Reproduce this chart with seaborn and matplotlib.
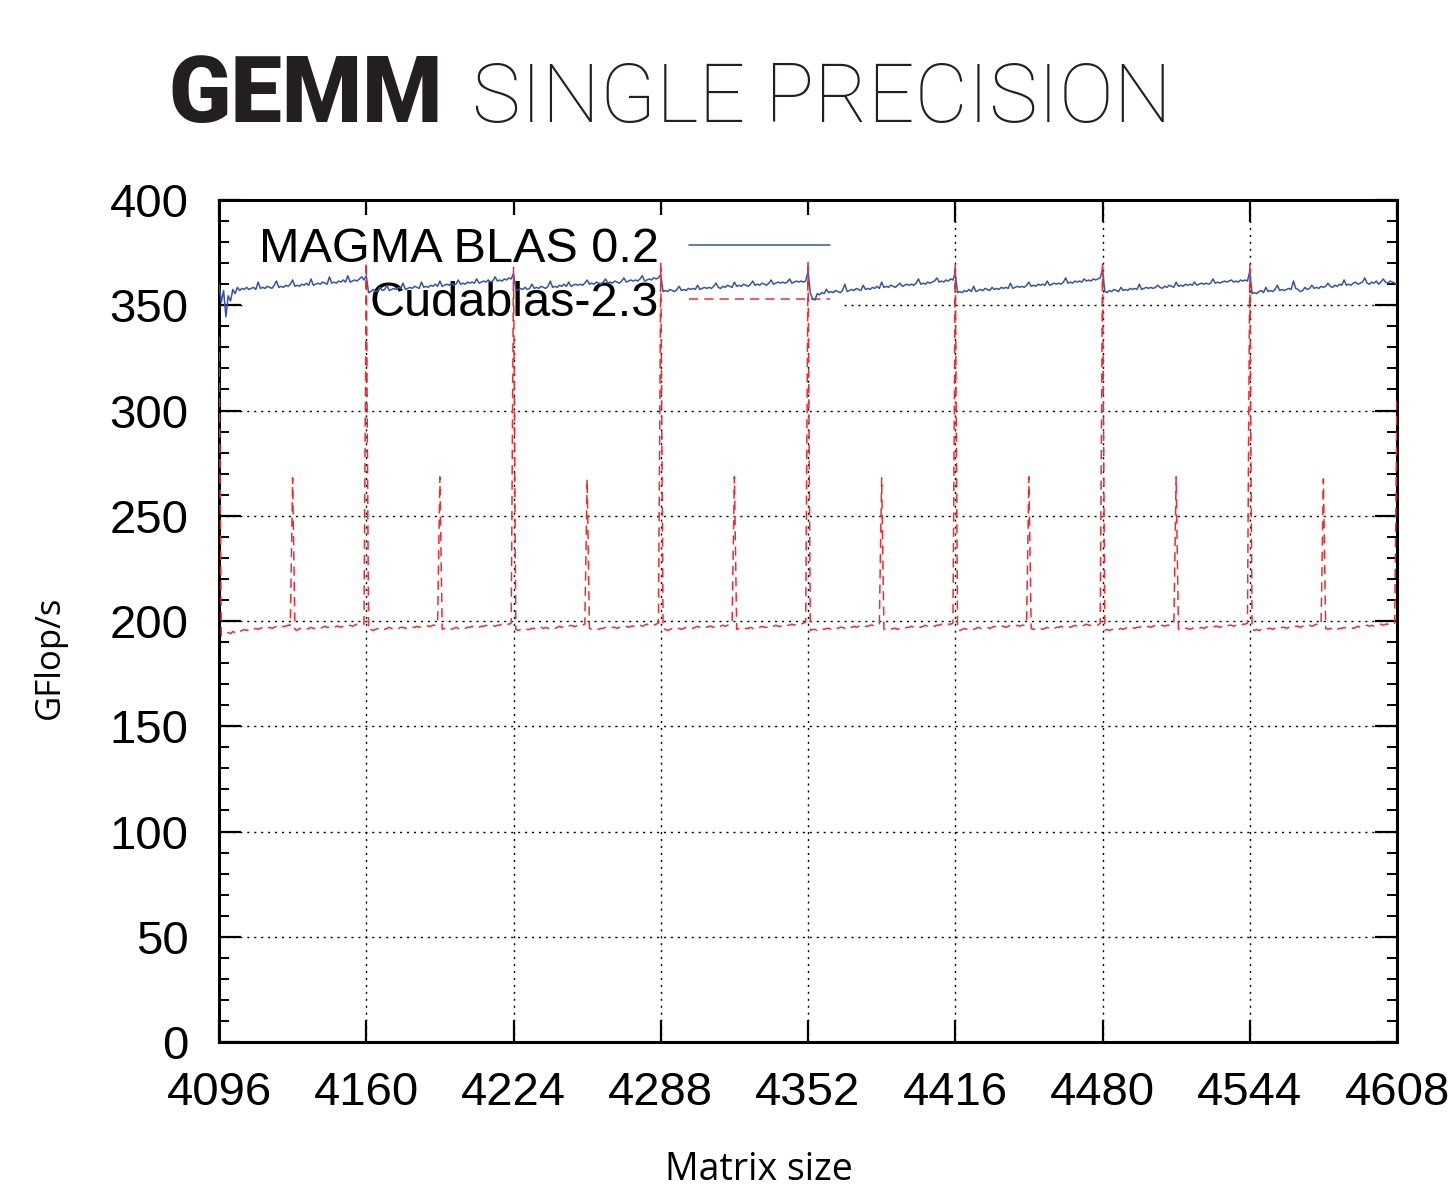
import numpy as np
import pandas as pd
import matplotlib
matplotlib.use("Agg")
import matplotlib.pyplot as plt
from matplotlib.ticker import MultipleLocator
import seaborn as sns

# ---------------- data ----------------
matrix_size = np.arange(4096, 4609)          # matrix sizes 4096..4608, step 1
x_ticks = [4096, 4160, 4224, 4288, 4352, 4416, 4480, 4544, 4608]
y_ticks = [0, 50, 100, 150, 200, 250, 300, 350, 400]
series_names = ["MAGMA BLAS 0.2", "Cudablas-2.3"]

magma_gflops = [
    # 4096
    360.0, 351.5, 357.0, 344.5, 354.5, 352.0, 357.5, 355.5, 358.5, 357.0, 358.0, 357.5, 358.5, 357.5, 358.0, 358.5,
    357.5, 361.0, 358.0, 358.5, 358.0, 359.0, 358.5, 358.0, 359.5, 361.5, 358.5, 359.0, 358.5, 359.5, 359.0, 360.0,
    362.0, 359.0, 359.5, 359.0, 360.0, 359.5, 360.5, 359.5, 362.5, 359.5, 360.0, 360.5, 360.0, 361.0, 360.5, 360.0,
    363.5, 360.5, 361.0, 360.5, 361.5, 361.0, 362.0, 361.0, 364.0, 361.0, 361.5, 362.0, 361.5, 362.5, 363.5, 362.0,
    # 4160
    364.0, 356.0, 356.5, 357.5, 356.5, 357.0, 358.5, 357.0, 357.5, 359.5, 357.0, 357.5, 358.0, 357.5, 358.5, 358.0,
    360.5, 357.5, 358.0, 358.5, 358.0, 359.0, 358.5, 358.0, 361.0, 358.5, 359.0, 358.5, 359.5, 359.0, 360.0, 359.0,
    361.5, 359.0, 359.5, 360.0, 359.5, 360.5, 359.5, 360.0, 362.0, 360.0, 360.5, 360.0, 361.0, 360.5, 361.0, 360.5,
    362.5, 360.5, 361.0, 361.5, 361.0, 362.0, 361.0, 361.5, 363.5, 361.5, 362.0, 361.5, 362.5, 362.0, 363.0, 362.5,
    # 4224
    365.0, 357.5, 357.0, 358.0, 357.5, 358.5, 357.5, 358.0, 360.0, 358.0, 358.5, 358.0, 359.0, 358.5, 358.0, 359.0,
    361.5, 358.5, 359.0, 358.5, 359.5, 359.0, 360.0, 359.0, 361.0, 359.0, 359.5, 360.0, 359.5, 360.0, 359.5, 360.5,
    362.0, 360.0, 360.5, 360.0, 361.0, 360.5, 360.0, 361.0, 362.5, 360.5, 361.0, 360.5, 361.5, 361.0, 360.5, 361.5,
    363.0, 361.0, 361.5, 362.0, 361.5, 362.0, 361.5, 362.5, 364.0, 361.5, 362.0, 362.5, 362.0, 363.0, 362.5, 363.0,
    # 4288
    364.5, 356.5, 357.0, 356.5, 357.5, 357.0, 356.5, 357.5, 359.0, 357.0, 357.5, 357.0, 358.0, 357.5, 358.0, 357.5,
    359.5, 357.5, 358.0, 358.5, 358.0, 358.5, 358.0, 359.0, 360.5, 358.5, 358.0, 359.0, 358.5, 359.5, 359.0, 358.5,
    361.0, 359.0, 359.5, 359.0, 360.0, 359.5, 359.0, 360.0, 361.5, 359.5, 360.0, 359.5, 360.5, 360.0, 359.5, 360.5,
    362.0, 360.0, 360.5, 361.0, 360.5, 361.0, 360.5, 361.0, 362.5, 360.5, 361.0, 361.5, 361.0, 361.5, 361.0, 361.5,
    # 4352
    366.0, 356.0, 353.0, 352.5, 355.5, 355.0, 356.0, 355.5, 357.5, 356.0, 356.5, 356.0, 357.0, 356.5, 356.0, 357.0,
    360.0, 356.5, 357.0, 357.5, 357.0, 358.0, 357.5, 357.0, 359.5, 357.5, 358.0, 357.5, 358.5, 358.0, 359.0, 358.0,
    361.0, 358.5, 359.0, 358.5, 359.5, 359.0, 358.5, 359.5, 360.5, 359.0, 359.5, 360.0, 359.5, 360.0, 359.5, 360.5,
    362.5, 360.0, 360.5, 360.0, 361.0, 360.5, 361.0, 361.5, 363.0, 361.0, 361.5, 361.0, 362.0, 361.5, 362.5, 362.0,
    # 4416
    365.5, 356.0, 356.5, 356.0, 357.0, 356.5, 357.5, 356.5, 359.0, 356.5, 357.0, 357.5, 357.0, 358.0, 357.5, 357.0,
    358.5, 357.5, 358.0, 357.5, 358.5, 358.0, 358.5, 358.0, 360.5, 358.0, 358.5, 359.0, 358.5, 359.0, 358.5, 359.5,
    361.0, 359.0, 359.5, 359.0, 360.0, 359.5, 360.0, 359.5, 361.5, 359.5, 360.0, 360.5, 360.0, 360.5, 360.0, 361.0,
    363.0, 360.5, 361.0, 360.5, 361.5, 361.0, 361.5, 361.0, 362.5, 361.5, 362.0, 361.5, 362.5, 362.0, 362.5, 363.0,
    # 4480
    367.0, 356.5, 356.0, 357.0, 356.5, 357.5, 357.0, 356.5, 358.5, 357.0, 357.5, 357.0, 358.0, 357.5, 358.0, 357.5,
    360.0, 357.5, 358.0, 358.5, 358.0, 358.5, 358.0, 358.5, 359.5, 358.5, 358.0, 359.0, 358.5, 359.5, 359.0, 358.5,
    361.0, 359.0, 359.5, 359.0, 360.0, 359.5, 360.0, 359.5, 361.0, 359.5, 360.0, 360.5, 360.0, 360.5, 360.0, 360.5,
    362.5, 360.5, 361.0, 360.5, 361.0, 361.5, 361.0, 361.5, 362.0, 361.0, 361.5, 361.0, 362.0, 361.5, 362.0, 361.5,
    # 4544
    366.0, 355.5, 356.0, 355.5, 356.5, 357.0, 356.0, 358.5, 356.5, 357.0, 356.5, 357.5, 359.5, 357.0, 357.5, 357.0,
    357.5, 358.0, 357.5, 361.5, 358.0, 357.5, 356.5, 357.0, 358.5, 357.5, 358.0, 359.5, 358.0, 358.5, 358.0, 359.0,
    358.5, 359.0, 360.5, 359.0, 358.5, 359.5, 359.0, 360.0, 359.5, 362.0, 359.5, 360.0, 359.5, 360.5, 361.0, 360.0,
    360.5, 361.0, 363.0, 360.5, 360.0, 361.0, 360.5, 361.5, 360.0, 361.0, 362.5, 361.0, 360.5, 361.5, 361.0, 360.5,
    # 4608
    360.0,
]

cublas_gflops = [
    # 4096
    335.0, 193.0, 193.5, 194.0, 194.5, 194.0, 195.0, 194.5, 195.5, 195.0, 195.5, 196.0, 195.5, 196.0, 196.5, 196.0,
    196.5, 196.0, 196.5, 197.0, 196.5, 196.5, 197.0, 196.5, 197.0, 197.5, 197.0, 197.0, 197.5, 197.5, 198.0, 198.0,
    268.0, 196.0, 195.5, 196.5, 196.0, 196.5, 196.0, 196.5, 197.0, 196.5, 196.5, 197.0, 196.5, 197.0, 197.5, 197.0,
    197.0, 197.5, 197.0, 197.5, 197.5, 197.0, 197.5, 198.0, 197.5, 198.0, 197.5, 198.0, 198.5, 198.0, 198.5, 198.5,
    # 4160
    370.5, 195.5, 196.0, 195.5, 196.0, 196.5, 196.0, 196.5, 196.0, 196.5, 197.0, 196.5, 196.5, 197.0, 196.5, 197.0,
    197.0, 196.5, 197.0, 197.5, 197.0, 197.0, 197.5, 197.0, 197.5, 197.5, 198.0, 197.5, 197.5, 198.0, 198.0, 198.5,
    268.5, 196.0, 196.5, 196.0, 196.5, 196.0, 196.5, 197.0, 196.5, 196.5, 197.0, 196.5, 197.0, 197.0, 197.5, 197.0,
    197.5, 197.0, 197.5, 197.5, 198.0, 197.5, 197.5, 198.0, 197.5, 198.0, 198.0, 198.5, 198.0, 198.5, 198.5, 199.0,
    # 4224
    368.0, 196.0, 195.5, 196.0, 196.0, 196.5, 196.0, 196.0, 196.5, 196.5, 196.0, 196.5, 197.0, 196.5, 197.0, 196.5,
    197.0, 197.0, 196.5, 197.0, 197.5, 197.0, 197.5, 197.0, 197.5, 198.0, 197.5, 197.5, 198.0, 197.5, 198.0, 198.5,
    267.5, 196.5, 196.0, 196.0, 196.5, 196.0, 196.5, 196.5, 197.0, 196.5, 196.5, 197.0, 197.0, 196.5, 197.0, 197.5,
    197.0, 197.5, 197.0, 197.5, 197.5, 198.0, 197.5, 198.0, 197.5, 198.0, 198.5, 198.0, 198.5, 198.0, 198.5, 199.0,
    # 4288
    370.5, 196.5, 196.0, 195.5, 196.0, 196.5, 196.0, 196.5, 196.5, 196.0, 196.5, 197.0, 196.5, 197.0, 196.5, 197.0,
    197.5, 197.0, 197.0, 197.5, 197.0, 197.5, 197.5, 197.0, 197.5, 198.0, 197.5, 198.0, 197.5, 198.0, 198.5, 199.0,
    268.5, 196.0, 196.5, 196.0, 196.0, 196.5, 196.5, 197.0, 196.5, 197.0, 196.5, 197.0, 197.5, 197.0, 197.0, 197.5,
    197.0, 197.5, 198.0, 197.5, 197.5, 198.0, 197.5, 198.0, 198.0, 198.5, 198.0, 198.5, 198.0, 198.5, 199.0, 199.5,
    # 4352
    371.0, 195.5, 196.0, 196.0, 195.5, 196.0, 196.5, 196.0, 196.5, 196.5, 196.0, 196.5, 197.0, 196.5, 197.0, 197.0,
    196.5, 197.0, 197.5, 197.0, 197.5, 197.0, 197.5, 197.5, 198.0, 197.5, 197.5, 198.0, 198.0, 197.5, 198.0, 198.5,
    268.0, 196.0, 196.0, 196.5, 196.0, 196.5, 196.5, 196.0, 196.5, 197.0, 196.5, 197.0, 197.0, 197.5, 197.0, 197.0,
    197.5, 197.0, 197.5, 198.0, 197.5, 197.5, 198.0, 197.5, 198.0, 198.0, 198.5, 198.0, 198.0, 198.5, 198.5, 199.0,
    # 4416
    370.0, 196.0, 195.5, 196.0, 196.5, 196.0, 196.0, 196.5, 196.0, 196.5, 197.0, 196.5, 196.5, 197.0, 197.0, 196.5,
    197.0, 197.5, 197.0, 197.0, 197.5, 197.5, 197.0, 197.5, 198.0, 197.5, 197.5, 198.0, 197.5, 198.0, 198.0, 198.5,
    268.5, 196.5, 196.0, 196.5, 196.0, 196.5, 196.0, 196.5, 197.0, 196.5, 197.0, 196.5, 197.0, 197.0, 197.5, 197.0,
    197.5, 197.5, 197.0, 197.5, 198.0, 197.5, 198.0, 197.5, 198.0, 198.5, 198.0, 198.0, 198.5, 198.5, 198.0, 199.0,
    # 4480
    370.5, 195.5, 196.0, 195.5, 196.0, 196.0, 196.5, 196.0, 196.5, 196.0, 196.5, 197.0, 196.5, 197.0, 196.5, 197.0,
    197.0, 197.5, 197.0, 197.0, 197.5, 197.0, 197.5, 198.0, 197.5, 197.5, 198.0, 197.5, 198.0, 198.0, 198.5, 198.5,
    268.5, 196.0, 196.5, 196.0, 196.5, 196.5, 196.0, 196.5, 197.0, 196.5, 196.5, 197.0, 196.5, 197.0, 197.5, 197.0,
    197.0, 197.5, 197.5, 197.0, 197.5, 198.0, 197.5, 198.0, 198.0, 197.5, 198.0, 198.5, 198.0, 198.5, 198.5, 199.0,
    # 4544
    370.0, 196.0, 195.5, 196.0, 195.5, 196.0, 196.5, 196.0, 196.5, 196.5, 196.0, 196.5, 197.0, 196.5, 197.0, 197.0,
    196.5, 197.0, 197.5, 197.0, 197.5, 197.5, 197.0, 197.5, 198.0, 197.5, 198.0, 197.5, 198.0, 198.5, 198.0, 198.5,
    267.5, 196.5, 196.0, 196.5, 196.0, 196.5, 196.0, 196.5, 196.5, 197.0, 196.5, 197.0, 197.0, 196.5, 197.0, 197.5,
    197.0, 197.5, 197.5, 198.0, 197.5, 198.0, 197.5, 198.0, 198.0, 198.5, 198.0, 198.5, 198.5, 199.0, 198.5, 199.0,
    # 4608
    305.0,
]

assert len(magma_gflops) == len(matrix_size) == len(cublas_gflops)

df = pd.DataFrame({"size": matrix_size, "magma": magma_gflops, "cublas": cublas_gflops})

# ---------------- style ----------------
sns.set_theme(style="white")
plt.rcParams["font.family"] = ["Liberation Sans", "DejaVu Sans"]
plt.rcParams["text.color"] = "black"

W, H = 1455, 1189
fig = plt.figure(figsize=(W / 100, H / 100), dpi=100)
ax = fig.add_axes([219 / W, 1 - 1042 / H, (1397 - 219) / W, (1042 - 200) / H])

blue = "#3553ad"
red = "#ef2b33"

sns.lineplot(data=df, x="size", y="magma", ax=ax, color=blue, linewidth=1.1,
             label=series_names[0], estimator=None, sort=False, zorder=3)
sns.lineplot(data=df, x="size", y="cublas", ax=ax, color=red, linewidth=1.1,
             linestyle=(0, (6, 4)), label=series_names[1], estimator=None,
             sort=False, zorder=3)

ax.set_xlim(x_ticks[0], x_ticks[-1])
ax.set_ylim(y_ticks[0], y_ticks[-1])
ax.set_xticks(x_ticks)
ax.set_yticks(y_ticks)
ax.yaxis.set_minor_locator(MultipleLocator(10))
ax.set_xlabel("")
ax.set_ylabel("")

ax.set_axisbelow(True)
ax.grid(True, which="major", color="black", linestyle=(0, (1.5, 3.5)), linewidth=1.0)

for s in ax.spines.values():
    s.set_visible(True)
    s.set_color("black")
    s.set_linewidth(2.2)

ax.tick_params(axis="both", which="major", direction="in", length=16, width=1.6,
               color="black", labelsize=34, labelcolor="black")
ax.tick_params(axis="y", which="both", left=True, right=True)
ax.tick_params(axis="y", which="major", pad=22)
ax.tick_params(axis="y", which="minor", direction="in", length=7, width=1.4, color="black")
ax.tick_params(axis="x", which="major", bottom=True, top=True, pad=21)

leg = ax.legend(loc="upper right", bbox_to_anchor=((842 - 219) / 1178, 0.982),
                borderaxespad=0, borderpad=0.25, frameon=True, facecolor="white",
                edgecolor="none", framealpha=1, fancybox=False, markerfirst=False,
                fontsize=35, handlelength=2.9, handletextpad=0.62, labelspacing=0.17,
                labelcolor="black")
leg.set_zorder(1)

# ---------------- texts ----------------
fig.text(168 / W, 1 - 122 / H, "GEMM", fontsize=66, fontweight="heavy",
         family=["Roboto", "DejaVu Sans"], color="#231f20", va="baseline", ha="left")
fig.text(472 / W, 1 - 122 / H, "SINGLE PRECISION", fontsize=59, fontweight="light",
         family=["Roboto", "DejaVu Sans"], color="#231f20", va="baseline", ha="left")
fig.text(50 / W, 1 - 657 / H, "GFlop/s", fontsize=25, rotation=90,
         family=["Open Sans", "DejaVu Sans"], color="black", va="center", ha="center")
fig.text(759 / W, 1 - 1180 / H, "Matrix size", fontsize=27,
         family=["Open Sans", "DejaVu Sans"], color="black", va="baseline", ha="center")

fig.savefig("out.png", dpi=100, facecolor="white")
